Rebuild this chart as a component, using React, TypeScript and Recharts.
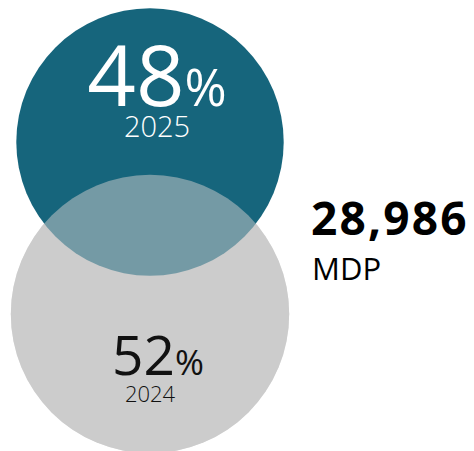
import { ScatterChart, Scatter, XAxis, YAxis } from 'recharts';

const years = ['2025', '2024'];
const shares = [48, 52];
const total = 28986;
const totalUnit = 'MDP';

const rows = years.map((year, i) => ({ year, share: shares[i], x: 0.5, y: i }));
const top = rows.slice(0, 1);
const bottom = rows.slice(1, 2);

const K = 19.3; // radius per sqrt(share)
const TEAL = '#16657c';
const GRAY = '#cccccc';
const FONT = "'Open Sans', 'Noto Sans', sans-serif";

const labelStyle = [
  { color: '#ffffff', big: 85, pct: 51, yr: 29, dx: 7, yrDx: 7, by: -36, yy: -5 },
  { color: '#111111', big: 55, pct: 35, yr: 22, dx: 8, yrDx: 0, by: 61, yy: 88 },
];

const circle = (fill: string, opacity = 1) => (props: any) => {
  const { cx, cy, payload } = props;
  return <circle cx={cx} cy={cy} r={K * Math.sqrt(payload.share)} fill={fill} fillOpacity={opacity} />;
};

const label = (props: any) => {
  const { cx, cy, payload } = props;
  const s = labelStyle[years.indexOf(payload.year)];
  return (
    <g fontFamily={FONT} fill={s.color}>
      <text x={cx + s.dx} y={cy + s.by} textAnchor="middle">
        <tspan fontSize={s.big}>{payload.share}</tspan>
        <tspan fontSize={s.pct}>%</tspan>
      </text>
      <text x={cx + s.yrDx} y={cy + s.yy} textAnchor="middle" fontSize={s.yr} fontWeight={300}>
        {payload.year}
      </text>
    </g>
  );
};

export default function App() {
  return (
    <div style={{ position: 'absolute', left: 0, top: 0, width: 474, height: 451, background: '#fff' }}>
      <ScatterChart width={474} height={451} margin={{ top: 142, right: 174, bottom: 137, left: 0 }}>
        <XAxis type="number" dataKey="x" domain={[0, 1]} hide />
        <YAxis type="number" dataKey="y" domain={[0, 1]} reversed hide />
        <Scatter data={bottom} shape={circle(GRAY)} isAnimationActive={false} />
        <Scatter data={top} shape={circle(TEAL)} isAnimationActive={false} />
        <Scatter data={bottom} shape={circle(GRAY, 0.52)} isAnimationActive={false} />
        <Scatter data={rows} shape={label} isAnimationActive={false} />
      </ScatterChart>
      <svg width={474} height={451} style={{ position: 'absolute', left: 0, top: 0, pointerEvents: 'none' }}>
        <text x={311} y={235} fontFamily={FONT} fontSize={46} fontWeight={700} letterSpacing={2.2} fill="#000">
          {total.toLocaleString('en-US')}
        </text>
        <text x={312} y={280} fontFamily={FONT} fontSize={31} fill="#000">
          {totalUnit}
        </text>
      </svg>
    </div>
  );
}
